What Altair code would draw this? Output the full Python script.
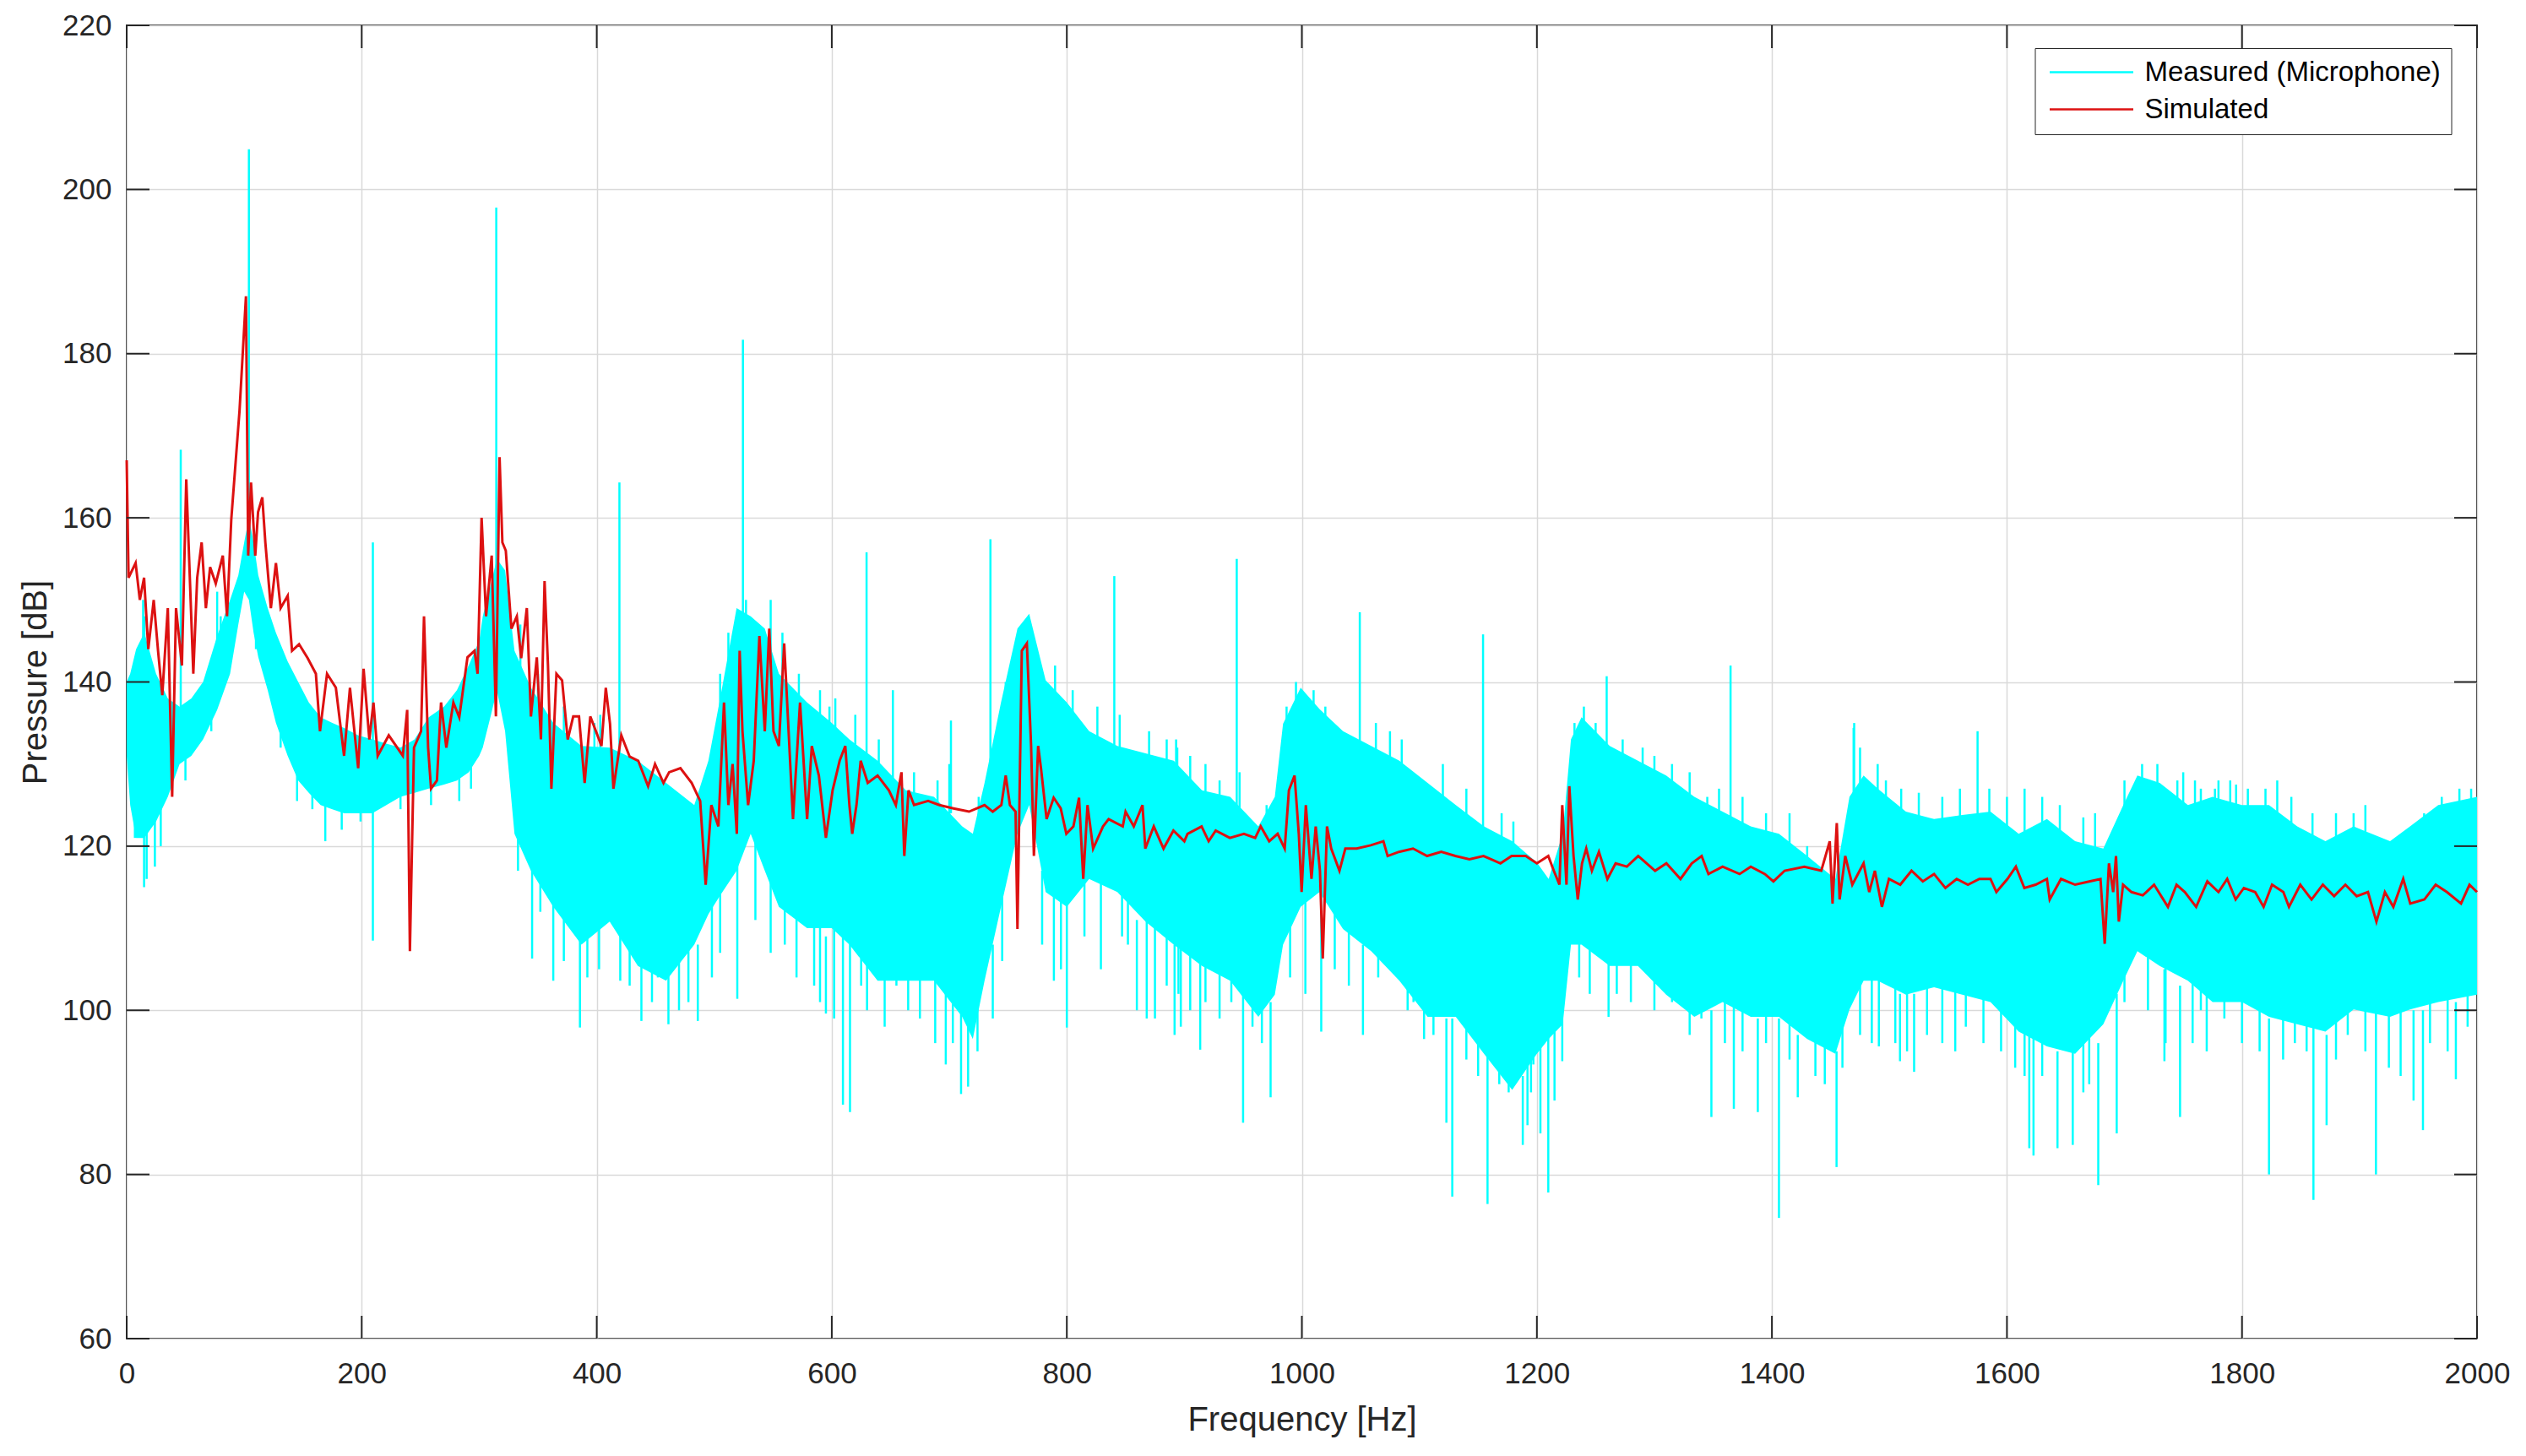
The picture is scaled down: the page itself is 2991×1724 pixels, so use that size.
import altair as alt
import pandas as pd

W, H = 2783, 1555

# ---- Measured (microphone): dense band read as upper / lower envelope ----
band_f = [0, 3, 8, 15, 25, 35, 45, 55, 65, 77, 88, 95, 100, 104, 108, 112, 120, 127, 137, 146,
          155, 165, 175, 185, 197, 209, 221, 233, 245, 257, 270, 281, 291, 300, 303, 310, 315, 322,
          330, 344, 363, 387, 411, 435, 459, 483, 495, 505, 519, 531, 543, 555, 579, 600, 615, 639,
          663, 687, 711, 720, 730, 744, 758, 768, 782, 800, 819, 843, 867, 891, 915, 939, 963, 977,
          984, 999, 1015, 1035, 1059, 1083, 1107, 1131, 1155, 1179, 1200, 1210, 1222, 1229, 1238,
          1262, 1286, 1310, 1334, 1358, 1382, 1406, 1430, 1454, 1466, 1478, 1490, 1514, 1538, 1562,
          1586, 1610, 1634, 1658, 1682, 1699, 1711, 1730, 1754, 1775, 1800, 1823, 1847, 1871, 1895,
          1926, 1943, 1967, 2000]
band_hi = [140, 141, 144, 146, 141, 138, 137, 138, 140, 145.6, 150, 153, 157, 160, 157, 153, 149, 146, 142.5, 140,
           137.5, 135.7, 135, 134.4, 133.5, 133, 132.5, 132, 133, 135.7, 137, 139, 142, 145, 148, 152, 155, 153.6,
           143.8, 139.3, 135, 132.2, 132, 130.4, 127.7, 125, 130.4, 138, 149, 148, 146.5, 141, 137.5, 135, 133, 130.4,
           126.8, 126, 122.4, 121.5, 127.7, 137.5, 146.5, 148.3, 140.2, 137.5, 134, 132.2, 131.3, 130.4, 126.8, 126, 122.4, 126,
           134.9, 139.3, 136.7, 134, 132.2, 130.4, 127.7, 125, 122.4, 120.6, 118, 116, 121.5, 133, 135.7,
           132.2, 130.4, 128.6, 126, 124.2, 122.4, 121.5, 118.8, 116, 126, 128.6, 127, 124.2, 123.3, 123.8,
           124.2, 121.5, 123.3, 120.6, 119.7, 125, 128.6, 127.7, 125, 126, 125, 125, 122.4, 120.6, 122.4,
           120.6, 122.4, 125, 126]
band_lo = [131, 125, 121, 121, 123, 126, 130, 131, 133, 136.6, 141, 147, 151, 150, 146, 143, 139, 135, 131, 128,
           126.5, 125, 124.5, 124, 124, 124, 125, 126, 126.5, 127, 127.5, 128, 129, 131, 132, 136, 139, 134,
           121.5, 117, 112.6, 108, 110.8, 105.4, 103.6, 108, 111.7, 114, 117, 121.5, 117, 112.6, 110, 110, 108, 103.6,
           103.6, 103.6, 99.2, 96.5, 103.6, 112.6, 121.5, 125, 114.4, 112.6, 116, 114.4, 110.8, 108, 105.4, 103.6, 99.2, 101.9,
           108, 112.6, 114.4, 109.9, 107.2, 103.6, 99.2, 99.2, 94.7, 90.3, 94.7, 96.5, 98.3, 108, 108,
           105.4, 105.4, 101.9, 99.2, 101, 99.2, 99.2, 96.5, 94.7, 100.1, 103.6, 103.6, 101.9, 102.8, 101.9,
           101, 97.4, 95.6, 94.7, 98.3, 103.6, 107.2, 105.4, 103.6, 101, 101, 99.2, 98.3, 97.4, 100.1,
           99.2, 100.1, 101, 101.9]

# ---- Measured: tall isolated spikes (frequency, low end, high end) ----
spike_f = [15, 46, 104, 209.5, 314.5, 419.3, 524.4, 629.6, 701.4, 735, 840.4, 894, 944.6, 1049.3,
           1154.2, 1259.4, 1364.8, 1469.5, 1575,
           7, 14.8, 24, 145, 169, 345, 363, 385.7, 438, 461, 486, 519.6, 595, 609.5, 615.5, 697, 710,
           716, 789, 800, 859.6, 891.7, 913.5, 950, 973.4, 1016.5, 1052, 1104, 1123, 1128, 1158, 1188,
           1197, 1209.7, 1221.6, 1261, 1348.5, 1367.6, 1388, 1406, 1422, 1455, 1491, 1509, 1521, 1619,
           1622.6, 1643, 1656, 1677.7, 1693.4, 1734, 1747.3, 1823, 1860.8, 1872, 1914, 1946, 1954, 1982]
spike_lo = [138, 137, 158, 108.5, 150, 130, 145, 128, 124, 125, 130, 128, 124, 131,
            121, 131, 123, 125, 123,
            121, 115, 117.5, 125.5, 120.6, 106.3, 103.6, 97.9, 98.7, 98.3, 98.7, 101.4, 99.6, 88.5, 87.6, 93.4, 89.8,
            90.7, 103.6, 97.9, 100, 97, 95.2, 86.3, 89.4, 97.4, 97, 96.5, 86.3, 77.3, 76.4, 83.6,
            93.4, 77.8, 93.8, 99.2, 87, 88, 87.6, 74.7, 89.4, 80.9, 95.6, 93.8, 92.5, 83.2,
            82.3, 83.2, 83.6, 78.7, 85, 93.8, 87, 80, 76.9, 86, 80, 89, 85.4, 91.6]
spike_hi = [148, 168.3, 204.9, 157, 197.8, 164.3, 181.7, 155.8, 135.3, 157.4, 152.9, 132, 155, 148.5,
            145.8, 140.7, 142, 134.4, 134,
            128, 126, 126, 130, 127, 118, 113, 109, 106, 105, 108, 118, 109, 109, 109, 104, 100,
            98, 114, 113, 111, 108, 106, 104, 101, 114, 108, 100, 99, 99, 95, 92,
            95, 97, 99, 106, 100, 101, 99, 99, 97, 95, 104, 102, 102, 97,
            97, 95, 95, 96, 102, 105, 103, 99, 98, 97, 100, 100, 100, 101]

# ---- Measured: short jags on the upper edge of the band (frequency, tip, base) ----
up_f = [14, 77, 80, 335, 350, 372, 398, 403, 505, 512, 527, 548, 558, 572, 590,
        598, 603, 620, 640, 652, 670, 690, 700, 725, 748, 790, 805, 826, 845, 870, 885,
        893, 905, 918, 930, 947, 970, 987, 995, 1010, 1020, 1063, 1075, 1085, 1120, 1140, 1170, 1180,
        1232, 1240, 1250, 1273, 1290, 1300, 1315, 1330, 1345, 1355, 1375, 1395, 1415, 1430, 1470, 1475, 1490,
        1497, 1510, 1525, 1545, 1560, 1585, 1600, 1615, 1630, 1645, 1665, 1675, 1700, 1715, 1728, 1745,
        1760, 1780, 1795, 1750, 1765, 1777, 1790, 1805, 1820, 1830, 1842, 1860, 1880, 1895, 1905, 1940,
        1955, 1970, 1985, 1995]
up_tip = [150, 151, 148, 147, 141, 137, 135, 136, 141, 146, 150, 150, 146, 141, 139,
          137, 138, 136, 133, 139, 129, 128, 130, 126, 140, 142, 139, 137, 136, 134, 133,
          133, 131, 130, 128, 129, 125, 137, 140, 139, 137, 135, 134, 133, 130, 127, 124, 123,
          135, 137, 135, 133, 132, 131, 130, 129, 126, 127, 126, 124, 124, 120, 135, 132, 130,
          128, 127, 126.5, 126, 127, 127, 126, 127, 126, 125, 123.5, 124, 128, 130, 130, 128,
          128, 128, 127.5, 129, 127, 127, 128, 127, 127, 128, 126, 124, 124, 124, 125, 121,
          124, 126, 127, 127]
up_base = [140, 142, 142, 138, 134, 130, 127, 127, 132, 138, 142, 140, 136, 132, 130,
           130, 130, 128, 126, 124, 122, 121, 120, 118, 132, 134, 132, 130, 128, 127, 126,
           126, 124, 123, 121, 121, 119, 130, 134, 132, 130, 128, 127, 126, 122, 120, 117, 116,
           128, 130, 128, 127, 126, 124, 123, 121, 120, 119, 118, 117, 116, 114, 123, 124, 122,
           120, 119, 119, 119, 119, 119, 118, 117, 118, 117, 116, 115, 120, 123, 122, 120,
           120, 120, 120, 120, 120, 120, 120, 120, 120, 120, 118, 117, 116, 117, 117, 116,
           117, 119, 120, 120]

# ---- Measured: short jags on the lower edge of the band (frequency, tip, base) ----
dn_f = [7.6, 17, 29, 50, 72, 110, 131, 158, 183, 199, 233, 259, 283, 293,
        333, 352, 372, 392, 402, 420, 428, 447, 452, 470, 478, 498, 505, 535, 548, 560, 570, 585, 590,
        602, 625, 630, 645, 655, 665, 675, 688, 703, 724, 737, 745, 779, 795, 815, 829, 847, 852, 868,
        875, 885, 897, 895, 905, 918, 930, 940, 958, 966, 990, 1003, 1028, 1040, 1065, 1090, 1095,
        1112, 1140, 1150, 1168, 1176, 1192, 1195, 1203, 1215, 1236, 1245, 1268, 1280, 1300, 1315, 1330,
        1340, 1360, 1375, 1395, 1415, 1437, 1445, 1460, 1475, 1485, 1505, 1515, 1532, 1545, 1556, 1565,
        1580, 1595, 1607, 1615, 1630, 1665, 1670, 1700, 1720, 1735, 1765, 1785, 1758, 1770, 1800, 1815,
        1835, 1845, 1855, 1880, 1890, 1905, 1925, 1935, 1960, 1975, 1992]
dn_tip = [121.5, 116, 120, 128, 134, 144, 132, 124.5, 122, 123, 124.5, 125, 125.5, 127,
          117, 112, 106, 104, 105, 103.6, 103, 101, 104, 100, 101, 104, 107, 111, 107, 108, 104, 103, 101,
          99, 103, 100, 98, 103, 100, 99, 96, 96, 95, 99, 106, 108, 105, 109, 105, 109, 108, 99,
          99, 103, 98, 102, 100, 101, 99, 101, 98, 96, 104, 102, 105, 103, 104, 100, 101,
          97, 94, 92, 91, 90, 86, 90, 85, 89, 104, 102, 102, 101, 100, 101, 97,
          99, 96, 95, 96, 94, 92, 91, 93, 97, 96, 96, 95, 97, 96, 95, 98,
          96, 95, 93, 92, 92, 90, 91, 101, 100, 96, 100, 99, 96, 95, 96, 95,
          94, 96, 95, 94, 97, 95, 93, 92, 96, 95, 98]
dn_base = [128, 126, 127, 133, 138, 148, 137, 130, 128, 128, 129, 130, 131, 131,
           125, 120, 114, 112, 113, 112, 110, 109, 110, 108, 110, 114, 116, 122, 118, 116, 113, 112, 111,
           111, 110, 108, 106, 107, 106, 106, 106, 102, 102, 108, 115, 117, 115, 117, 116, 116, 115, 112,
           111, 110, 109, 110, 108, 107, 106, 106, 103, 103, 112, 114, 113, 111, 109, 106, 106,
           102, 101, 99, 96, 95, 96, 97, 97, 99, 110, 109, 108, 108, 105, 104, 102,
           102, 103, 102, 101, 101, 98, 97, 99, 105, 105, 104, 104, 105, 105, 104, 104,
           103, 103, 100, 99, 98, 97, 98, 106, 108, 107, 104, 103, 104, 104, 103, 102,
           101, 100, 100, 100, 102, 102, 102, 102, 103, 103, 104]

# ---- Simulated ----
sim_f = [0, 1.6, 7.6, 11.2, 14.8, 18.4, 23, 26.7, 30.3, 35, 38.7, 42, 47, 50.7, 56.7, 60, 63.8, 67.4, 71,
         75.8, 81.8, 85.4, 89, 96, 101.5, 103.4, 105.8, 109.4, 111.8, 115.4, 118, 122.7, 127, 131, 137,
         140.7, 146.7, 154, 161, 164.5, 170.5, 178, 185, 190, 197, 201.6, 206.5, 210, 213.6, 223, 235,
         238.7, 241, 244.5, 250.5, 253, 256.5, 259, 264, 267.5, 272, 278, 283, 290, 296, 298.6, 302,
         305.8, 310.6, 314.2, 317.3, 319.7, 322.6, 327.4, 332, 335.7, 340.5, 344, 349, 352.5, 355.6,
         358.5, 361.4, 365.7, 370.5, 375.3, 380, 384.9, 389.7, 394.5, 399.3, 404, 407.7, 411.3, 414.2,
         420.9, 428, 435.3, 443.7, 449.6, 456.8, 461.6, 471.2, 480.8, 488, 492.7, 497.5, 503.5, 508.3,
         512, 515.6, 519.2, 521.6, 524, 528.8, 533.6, 538.4, 543, 546.8, 550.4, 555, 559.5, 563.6, 567,
         573, 579, 583, 589, 595, 600.7, 606.7, 611.5, 615, 617.4, 621, 624.6, 630.6, 639, 648.6,
         654.5, 659.3, 661.7, 665.3, 670, 682, 691.6, 703.6, 716.8, 730, 737, 744.3, 748, 751.6, 756.4,
         758, 761.7, 766, 769.6, 772, 775.6, 778, 782.8, 788.8, 794.8, 799.6, 805.6, 810.4, 814, 817.6,
         822.4, 830.8, 835.6, 847.6, 850, 857, 864.4, 866.8, 874, 882.3, 890.7, 900, 902.7, 914.7,
         920.7, 926.7, 938.7, 950.7, 960.3, 965, 972.2, 979.4, 985.4, 989, 993.8, 997.4, 999.8, 1003.4,
         1008.2, 1011.8, 1015.4, 1017.8, 1021.4, 1025, 1032, 1037, 1046.6, 1058.6, 1069.4, 1073,
         1082.6, 1094.6, 1106.6, 1118.6, 1130.6, 1142.6, 1154.6, 1169, 1178.5, 1190.5, 1200, 1209.7,
         1214.4, 1219.2, 1221.6, 1225.2, 1227.6, 1231.2, 1234.8, 1238.4, 1242, 1246.8, 1252.8, 1260,
         1267, 1276.6, 1286.2, 1300.6, 1310.2, 1322.2, 1331.8, 1340.2, 1346, 1358, 1372.5, 1382, 1394,
         1401.3, 1410.8, 1427.6, 1442, 1449.2, 1451.6, 1455.2, 1457.6, 1462.4, 1468.4, 1478, 1482.8,
         1487.6, 1493.6, 1499.6, 1509.2, 1518.8, 1528.4, 1538, 1547.6, 1557.2, 1566.8, 1576.5, 1586,
         1591, 1600.4, 1607.6, 1614.8, 1624.4, 1634, 1636.4, 1646, 1658, 1670, 1679.6, 1683.2, 1686.8,
         1690.4, 1692.8, 1695.2, 1698.8, 1706, 1715.6, 1725.2, 1737, 1744.3, 1751.4, 1761, 1770.5, 1780,
         1787.4, 1794.6, 1801.6, 1811.2, 1818.4, 1825.6, 1835.2, 1840, 1849.6, 1859.2, 1868.8, 1878.4,
         1888, 1897.6, 1907.2, 1914.4, 1921.6, 1928.8, 1937.2, 1943.2, 1955.2, 1964.8, 1974.4, 1986.4,
         1993.6, 2000]
sim_db = [167, 152.7, 154.5, 150, 152.7, 144, 150, 143.8, 138.4, 149, 126, 149, 142, 164.7, 141, 152.7, 157, 149, 154,
          152, 155.4, 148, 159.8, 173, 187, 155.4, 164.3, 155.4, 160.7, 162.5, 157, 149, 154.5, 149, 150.5,
          143.8, 144.6, 142.9, 141, 134, 141, 139.3, 131, 139.3, 129.5, 141.6, 133, 137.5, 131, 133.5, 131,
          136.6, 107.2, 132, 134, 148, 132, 127, 128, 137.5, 132, 137.5, 135.7, 143, 143.8, 141, 160,
          148, 155.4, 135.8, 167.4, 157, 156, 146.5, 148, 142.9, 149, 135.8, 143, 133, 152.3,
          142, 127, 141, 140.2, 133, 135.8, 135.8, 127.7, 135.8, 134, 132.2, 139.3, 134.9, 127,
          133.5, 130.9, 130.4, 127.3, 130, 127.7, 129, 129.5, 127.7, 125.5, 115.3, 125, 122.4, 137.5,
          125, 130, 121.5, 143.8, 134, 125, 130.4, 145.6, 134, 146.5, 134, 132.2, 144.7, 133, 123.3,
          137.5, 123.3, 132.2, 128.6, 121, 126.8, 130.4, 132.2, 125, 121.5, 125, 130.4, 127.7, 128.6, 126.8,
          125, 129, 118.8, 126.8, 125, 125.5, 125, 124.6, 124.2, 125, 124.2, 125, 128.6, 125, 124.2,
          109.9, 143.8, 144.7, 132.2, 118.8, 132.2, 129.5, 123.3, 125.9, 124.6, 121.5, 122.4, 125.9, 116, 125,
          119.7, 122.4, 123.3, 122.4, 124.2, 122.4, 125, 119.7, 122.4, 119.7, 121.9, 120.6, 121.5, 122.4,
          120.6, 121.9, 121, 121.5, 121, 122.4, 120.6, 121.5, 119.7, 126.8, 128.6, 121.5, 114.4, 125,
          116, 122.4, 117, 106.3, 122.4, 119.7, 117, 119.7, 119.7, 120.1, 120.6, 118.8,
          119.3, 119.7, 118.8, 119.3, 118.8, 118.4, 118.8, 117.9, 118.8, 118.8, 117.9, 118.8,
          117, 115.3, 125, 115.3, 127.3, 118.8, 113.5, 117.9, 119.7, 117, 119.3, 116,
          117.9, 117.5, 118.8, 117, 117.9, 116, 117.9, 118.8, 116.6, 117.5, 116.6, 117.5, 116.6,
          115.7, 117, 117.5, 117, 120.6, 113, 122.8, 113.5, 118.8, 115.3, 117.9, 114.4,
          117, 112.6, 116, 115.3, 117, 115.7, 116.6, 114.9, 116, 115.3, 116, 116,
          114.4, 116, 117.5, 114.9, 115.3, 116, 113.5, 116, 115.3, 115.7, 116, 108.1, 117.9,
          114.4, 118.8, 110.8, 115.3, 114.4, 114, 115.3, 112.6, 115.3, 114.4, 112.6, 115.7, 114.4,
          116, 113.5, 114.9, 114.4, 112.6, 115.3, 114.4, 112.6, 115.3, 113.5, 115.3, 113.9,
          115.3, 113.9, 114.4, 110.8, 114.4, 112.6, 116, 113, 113.5, 115.3, 114.4, 113,
          115.3, 114.4]

x_ticks = [0, 200, 400, 600, 800, 1000, 1200, 1400, 1600, 1800, 2000]
y_ticks = [60, 80, 100, 120, 140, 160, 180, 200, 220]

MEAS = "Measured (Microphone)"
SIM = "Simulated"
CYAN = "#00ffff"
RED = "#dd1111"
FONT = "Liberation Sans"
TXT = "#262626"
TICK = 27

band = pd.DataFrame({"f": band_f, "db": band_hi, "db2": band_lo})
spikes = pd.DataFrame({"f": spike_f + up_f + dn_f,
                       "db": spike_hi + up_tip + dn_base,
                       "db2": spike_lo + up_base + dn_tip,
                       "series": MEAS})
sim = pd.DataFrame({"f": sim_f, "db": sim_db, "series": SIM})
xt = pd.DataFrame({"f": x_ticks})
yt = pd.DataFrame({"db": y_ticks})

x_axis = alt.Axis(values=x_ticks, format="d", title="Frequency [Hz]", grid=True, gridColor="#d9d9d9",
                  gridWidth=1.5, ticks=False, domain=False, labelFont=FONT, labelFontSize=35, labelColor=TXT,
                  labelBaseline="alphabetic", labelPadding=52, labelFlush=False, labelOverlap=False,
                  titleFont=FONT, titleFontSize=40, titleFontWeight="normal", titleColor=TXT,
                  titleX=W / 2, titleY=108, titleAlign="center", titleBaseline="alphabetic", titleAngle=0)
y_axis = alt.Axis(values=y_ticks, format="d", title="Pressure [dB]", grid=True, gridColor="#d9d9d9",
                  gridWidth=1.5, ticks=False, domain=False, labelFont=FONT, labelFontSize=35, labelColor=TXT,
                  labelPadding=18, labelFlush=False, labelOverlap=False,
                  titleFont=FONT, titleFontSize=40, titleFontWeight="normal", titleColor=TXT,
                  titleX=-96, titleY=H / 2, titleAlign="center", titleBaseline="alphabetic", titleAngle=270)

X = alt.X("f:Q", scale=alt.Scale(domain=[0, 2000], nice=False, zero=False), axis=x_axis)
Y = alt.Y("db:Q", scale=alt.Scale(domain=[60, 220], nice=False, zero=False), axis=y_axis)

legend = alt.Legend(title=None, orient="none", legendX=2259.5, legendY=27,
                    symbolType="M-1,0H8", symbolSize=484, symbolStrokeWidth=2.5,
                    labelOffset=85, labelFont=FONT, labelFontSize=33, labelColor="#000000", labelLimit=0,
                    padding=12, rowPadding=10, strokeColor="#262626", fillColor="white")
C = alt.Color("series:N", scale=alt.Scale(domain=[MEAS, SIM], range=[CYAN, RED]), legend=legend)

band_layer = alt.Chart(band).mark_area(color=CYAN, opacity=1, interpolate="linear").encode(
    x=X, y=Y, y2="db2:Q")
spike_layer = alt.Chart(spikes).mark_rule(strokeWidth=2.5).encode(x=X, y=Y, y2="db2:Q", color=C)
sim_layer = alt.Chart(sim).mark_line(strokeWidth=3, interpolate="linear").encode(x=X, y=Y, color=C)

xt_bottom = alt.Chart(xt).mark_rule(color=TXT, strokeWidth=2).encode(
    x=X, y=alt.value(H), y2=alt.value(H - TICK))
xt_top = alt.Chart(xt).mark_rule(color=TXT, strokeWidth=2).encode(
    x=X, y=alt.value(0), y2=alt.value(TICK))
yt_left = alt.Chart(yt).mark_rule(color=TXT, strokeWidth=2).encode(
    y=Y, x=alt.value(0), x2=alt.value(TICK))
yt_right = alt.Chart(yt).mark_rule(color=TXT, strokeWidth=2).encode(
    y=Y, x=alt.value(W), x2=alt.value(W - TICK))

chart = alt.layer(band_layer, spike_layer, sim_layer, xt_bottom, xt_top, yt_left, yt_right).properties(
    width=W, height=H,
    padding={"left": 142, "top": 22, "right": 44, "bottom": 118},
    autosize=alt.AutoSizeParams(type="none"),
    background="white",
).configure_view(stroke=TXT, strokeWidth=2)

chart.save("out.html", embed_options={"renderer": "svg", "actions": False})
